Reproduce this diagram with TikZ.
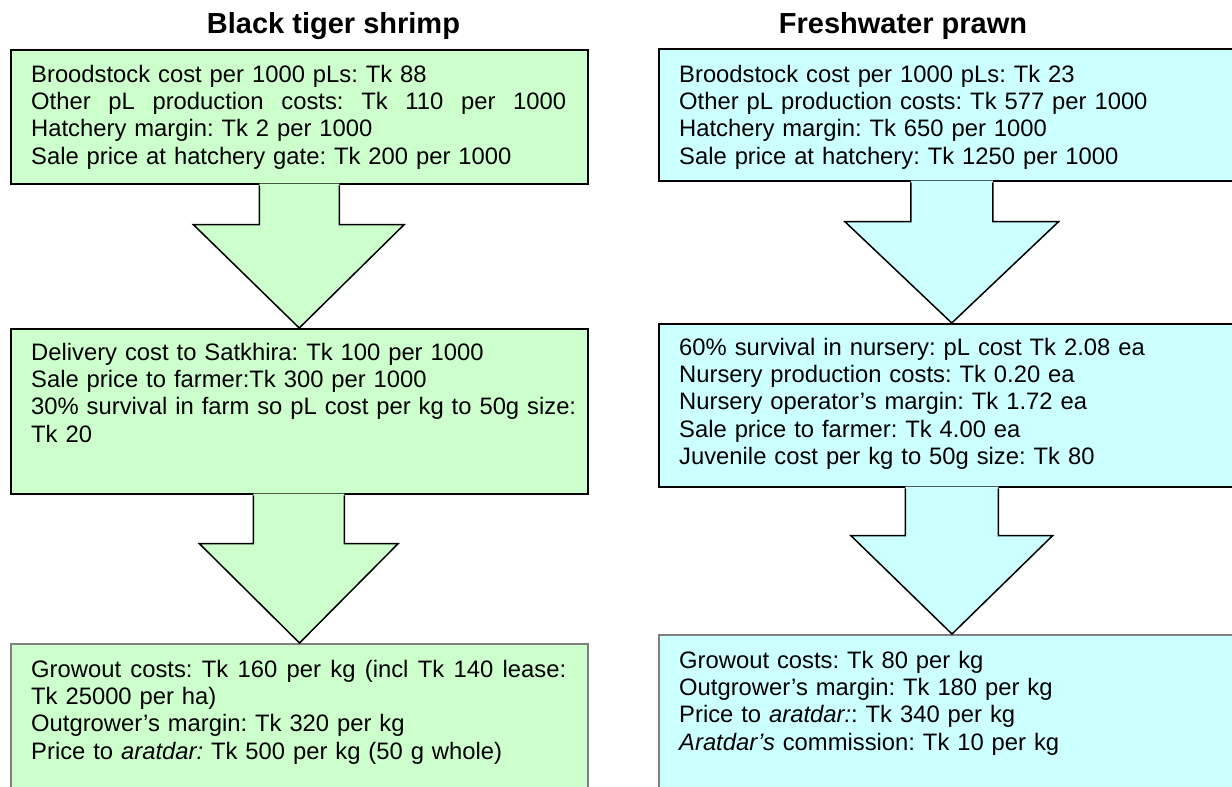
\documentclass[tikz,border=0pt]{standalone}
\usepackage{fontspec}
\setmainfont{Liberation Sans}
\usetikzlibrary{calc}
\definecolor{lgreen}{HTML}{CCFFCC}
\definecolor{lcyan}{HTML}{CCFFFF}
\definecolor{bgray}{HTML}{808080}
\newcommand{\justline}[1]{\makebox[535pt][s]{\spaceskip=0.278em plus 1fil\relax #1}}
\frenchspacing
\begin{document}
\begin{tikzpicture}[x=1pt,y=-1pt,
  boxbase/.style={rectangle, draw=black, line width=1.5pt, anchor=north west, inner sep=0pt},
  greenbox/.style={boxbase, fill=lgreen, minimum width=577pt},
  cyanbox/.style={boxbase, fill=lcyan, minimum width=586pt},
  lastbox/.style={draw=bgray, line width=2pt},
  txt/.style={anchor=base west, inner sep=0pt, text width=545pt, align=left,
    font=\fontsize{23.8}{27.4}\selectfont\frenchspacing},
  ttl/.style={anchor=base, inner sep=0pt, font=\fontsize{29}{34}\selectfont\bfseries},
  arrline/.style={draw=black, line width=1.5pt, line join=miter}
]
\useasboundingbox (0,0) rectangle (1232,787);
\clip (0,0) rectangle (1232,787);

% titles
\node[ttl] (TL) at (333.5,34) {Black tiger shrimp};
\node[ttl] (TR) at (903,34) {Freshwater prawn};

% left column boxes
\node[greenbox, minimum height=134pt] (L1) at (10,49) {};
\node[greenbox, minimum height=165pt] (L2) at (10,328) {};
\node[greenbox, lastbox, minimum height=170pt] (L3) at (10,643) {};

% right column boxes
\node[cyanbox, minimum height=132pt] (R1) at (658,48) {};
\node[cyanbox, minimum height=163pt] (R2) at (658,323) {};
\node[cyanbox, lastbox, minimum height=180pt] (R3) at (658,634) {};

% left arrows
\fill[lgreen] ($(L1.south)+(-40,-1)$) -- ($(L1.south)+(-40,40)$) -- ($(L1.south)+(-106,40)$)
  -- (L2.north) -- ($(L1.south)+(105,40)$) -- ($(L1.south)+(40,40)$) -- ($(L1.south)+(40,-1)$) -- cycle;
\draw[arrline] ($(L1.south)+(-40,0.75)$) -- ($(L1.south)+(-40,40)$) -- ($(L1.south)+(-106,40)$)
  -- (L2.north) -- ($(L1.south)+(105,40)$) -- ($(L1.south)+(40,40)$) -- ($(L1.south)+(40,0.75)$);

\fill[lgreen] ($(L2.south)+(-46,-1)$) -- ($(L2.south)+(-46,49)$) -- ($(L2.south)+(-100,49)$)
  -- (L3.north) -- ($(L2.south)+(99,49)$) -- ($(L2.south)+(45,49)$) -- ($(L2.south)+(45,-1)$) -- cycle;
\draw[arrline] ($(L2.south)+(-46,0.75)$) -- ($(L2.south)+(-46,49)$) -- ($(L2.south)+(-100,49)$)
  -- (L3.north) -- ($(L2.south)+(99,49)$) -- ($(L2.south)+(45,49)$) -- ($(L2.south)+(45,0.75)$);

% right arrows
\fill[lcyan] ($(R1.south)+(-41,-1)$) -- ($(R1.south)+(-41,40)$) -- ($(R1.south)+(-107,40)$)
  -- (R2.north) -- ($(R1.south)+(107,40)$) -- ($(R1.south)+(41,40)$) -- ($(R1.south)+(41,-1)$) -- cycle;
\draw[arrline] ($(R1.south)+(-41,0.75)$) -- ($(R1.south)+(-41,40)$) -- ($(R1.south)+(-107,40)$)
  -- (R2.north) -- ($(R1.south)+(107,40)$) -- ($(R1.south)+(41,40)$) -- ($(R1.south)+(41,0.75)$);

\fill[lcyan] ($(R2.south)+(-46.5,-1)$) -- ($(R2.south)+(-46.5,48)$) -- ($(R2.south)+(-101,48)$)
  -- (R3.north) -- ($(R2.south)+(101,48)$) -- ($(R2.south)+(46.5,48)$) -- ($(R2.south)+(46.5,-1)$) -- cycle;
\draw[arrline] ($(R2.south)+(-46.5,0.75)$) -- ($(R2.south)+(-46.5,48)$) -- ($(R2.south)+(-101,48)$)
  -- (R3.north) -- ($(R2.south)+(101,48)$) -- ($(R2.south)+(46.5,48)$) -- ($(R2.south)+(46.5,0.75)$);

% left texts
\node[txt] (L1t) at ($(L1.north west)+(21,33)$) {%
Broodstock cost per 1000 pLs: Tk 88\\
\justline{Other pL production costs: Tk 110 per 1000}\\
Hatchery margin: Tk 2 per 1000\\
Sale price at hatchery gate: Tk 200 per 1000};

\node[txt] (L2t) at ($(L2.north west)+(21,32)$) {%
Delivery cost to Satkhira: Tk 100 per 1000\\
Sale price to farmer:Tk 300 per 1000\\
30\% survival in farm so pL cost per kg to 50g size:\\
Tk 20};

\node[txt] (L3t) at ($(L3.north west)+(21,34)$) {%
\justline{Growout costs: Tk 160 per kg (incl Tk 140 lease:}\\
Tk 25000 per ha)\\
Outgrower’s margin: Tk 320 per kg\\
Price to \textit{aratdar:} Tk 500 per kg (50 g whole)};

% right texts
\node[txt] (R1t) at ($(R1.north west)+(21,34)$) {%
Broodstock cost per 1000 pLs: Tk 23\\
Other pL production costs: Tk 577 per 1000\\
Hatchery margin: Tk 650 per 1000\\
Sale price at hatchery: Tk 1250 per 1000};

\node[txt] (R2t) at ($(R2.north west)+(21,32)$) {%
60\% survival in nursery: pL cost Tk 2.08 ea\\
Nursery production costs: Tk 0.20 ea\\
Nursery operator’s margin: Tk 1.72 ea\\
Sale price to farmer: Tk 4.00 ea\\
Juvenile cost per kg to 50g size: Tk 80};

\node[txt] (R3t) at ($(R3.north west)+(21,34)$) {%
Growout costs: Tk 80 per kg\\
Outgrower’s margin: Tk 180 per kg\\
Price to \textit{aratdar:}: Tk 340 per kg\\
\textit{Aratdar’s} commission: Tk 10 per kg};
\end{tikzpicture}
\end{document}
